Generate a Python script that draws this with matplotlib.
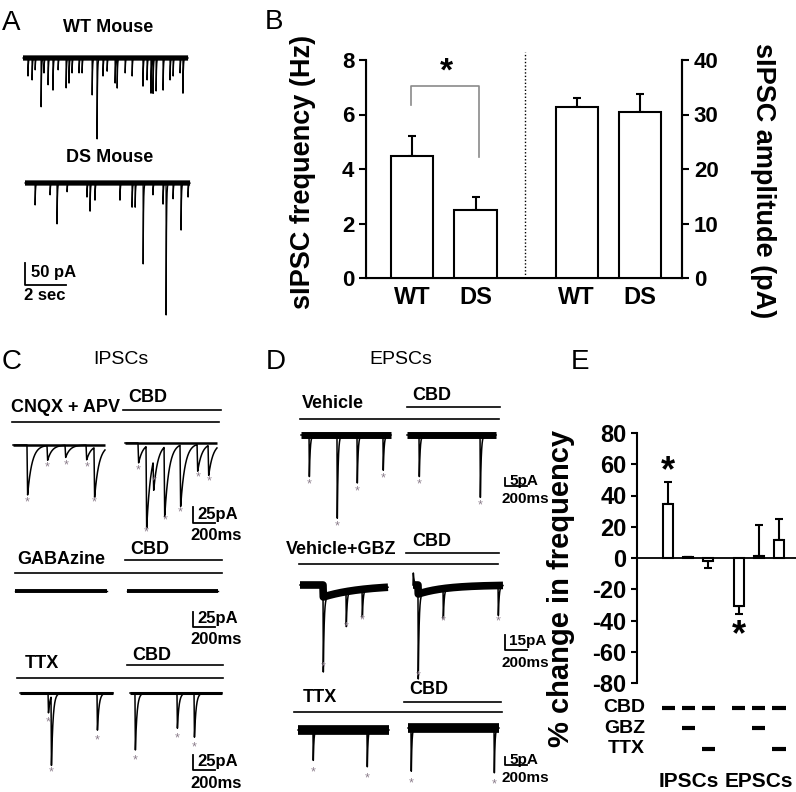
import numpy as np
import matplotlib.pyplot as plt

plt.rcParams['font.family'] = ['Liberation Sans', 'DejaVu Sans']
plt.rcParams['font.weight'] = 'bold'
plt.rcParams['axes.labelweight'] = 'bold'
plt.rcParams['axes.unicode_minus'] = False

# ---------------- data ----------------
# panel A: spontaneous events, (time s, amplitude pA)
a_wt = [(0.24, 41), (0.44, 50), (0.59, 27), (0.88, 111), (1.02, 34), (1.22, 61),
        (1.46, 73), (1.71, 27), (2.10, 68), (2.24, 57), (2.39, 34), (2.73, 34),
        (2.88, 34), (3.37, 84), (3.61, 184), (3.90, 41), (4.10, 30), (4.49, 57),
        (4.59, 68), (4.98, 34), (5.32, 41), (5.85, 64), (6.05, 50), (6.24, 80),
        (6.34, 80), (6.49, 75), (6.83, 73), (7.17, 50), (7.32, 41), (7.66, 34),
        (7.80, 80)]
a_ds = [(0.49, 50), (1.22, 27), (1.56, 93), (2.05, 20), (3.02, 32), (3.17, 64),
        (3.41, 39), (4.63, 39), (5.22, 55), (5.37, 55), (5.76, 184), (6.24, 27),
        (6.73, 48), (6.88, 300), (7.22, 36), (7.61, 107), (7.95, 32)]
a_dur = 8.05

# panel B
b_groups = ['WT', 'DS']
b_freq = [4.48, 2.50]
b_freq_err = [0.73, 0.47]
b_amp = [31.4, 30.5]
b_amp_err = [1.6, 3.3]

# panel C: IPSC events, (time ms, amplitude pA)
c_cnqx = [(127, 78), (309, 23), (473, 19), (664, 23), (736, 78)]
c_cnqx_cbd = [(118, 31), (191, 128), (255, 47), (355, 109), (500, 96), (655, 42), (755, 47)]
c_gbz = []
c_gbz_cbd = []
c_ttx = [(255, 31), (282, 108), (700, 58)]
c_ttx_cbd = [(45, 89), (427, 55), (582, 69)]

# panel D: EPSC events, (time ms, amplitude pA)
d_veh = [(73, 26), (327, 52), (509, 30), (745, 22)]
d_veh_cbd = [(109, 26), (664, 39)]
d_gbz = [(209, 75), (418, 35), (564, 28)]
d_gbz_slow = [(209, 12, 350)]
d_gbz_cbd = [(0, -12), (45, 85), (273, 30), (773, 30)]
d_gbz_cbd_slow = [(45, 9, 250)]
d_ttx = [(136, 19), (627, 23)]
d_ttx_cbd = [(27, 27), (782, 28)]

# panel E
e_change = [34.8, 0.5, -2.0, -30.8, 1.3, 11.6]
e_err = [13.6, 0.0, 4.5, 4.9, 20.0, 13.2]
e_sig = [1, 0, 0, 1, 0, 0]
e_cbd = [1, 1, 1, 1, 1, 1]
e_gbz = [0, 1, 0, 0, 1, 0]
e_ttx = [0, 0, 1, 0, 0, 1]
e_groups = ['IPSCs', 'EPSCs']

W, H = 796, 792
fig = plt.figure(figsize=(W / 100, H / 100), dpi=100)

ov = fig.add_axes([0, 0, 1, 1])
ov.set_xlim(0, W)
ov.set_ylim(H, 0)
ov.axis('off')

STAR = '#8b7d8b'


def make_trace(dur, events, dt, rise, tau):
    t = np.arange(0.0, dur + dt, float(dt))
    y = np.zeros(len(t), dtype=float)
    for ev in events:
        t0, amp = ev[0], ev[1]
        tk = ev[2] if len(ev) > 2 else tau
        s = t - t0
        k = np.where(s < 0, 0.0, np.where(s < rise, s / rise, np.exp(-(s - rise) / tk)))
        y -= amp * k
    return t, y


def draw_trace(x0, y0, sx, sy, dur, events, dt, rise, tau, band=2.0,
               lw=1.0, stars=True, star_off=8, slow=()):
    t, y = make_trace(dur, list(events) + list(slow), dt, rise, tau)
    _, yb = make_trace(dur, slow, dt, rise, tau)
    # noise band drawn as a thick baseline, following only slow drifts
    ov.plot(x0 + t * sx, y0 - yb * sy, color='k', lw=band, solid_capstyle='butt')
    ov.plot(x0 + t * sx, y0 - y * sy, color='k', lw=lw)
    if stars:
        for t0, amp in events:
            if amp > 0:
                ov.text(x0 + (t0 + rise) * sx, y0 + amp * sy + star_off, '*',
                        color=STAR, fontsize=9, ha='center', va='center',
                        fontweight='normal')


def scalebar(x, y, w, h, top, bottom, size=12):
    ov.plot([x, x, x + w], [y - h, y, y], color='k', lw=1.3)
    ov.text(x + 4, y - h / 2 - 1, top, fontsize=size, ha='left', va='center')
    ov.text(x - 3, y + 13, bottom, fontsize=size, ha='left', va='center')


def condition(label, lx, ly, cx, cy, line1, line2, size=13):
    ov.text(lx, ly, label, fontsize=size, ha='left', va='center')
    ov.text(cx, cy, 'CBD', fontsize=size, ha='left', va='center')
    ov.plot(line1[:2], [line1[2]] * 2, color='k', lw=1.2)
    ov.plot(line2[:2], [line2[2]] * 2, color='k', lw=1.2)


# ---------------- panel A ----------------
ov.text(2, 23, 'A', fontsize=20, fontweight='normal', ha='left', va='center')
ov.text(108, 27, 'WT Mouse', fontsize=13, ha='center', va='center')
ov.text(110, 157, 'DS Mouse', fontsize=13, ha='center', va='center')
draw_trace(23, 58, 20.5, 0.44, a_dur, a_wt, 0.002, 0.004, 0.02,
           band=3.8, lw=0.9, stars=False)
draw_trace(25, 183, 20.5, 0.44, a_dur, a_ds, 0.002, 0.004, 0.02,
           band=3.8, lw=0.9, stars=False)
ov.plot([25, 25, 66], [263, 285, 285], color='k', lw=1.3)
ov.text(31, 273, '50 pA', fontsize=12, ha='left', va='center')
ov.text(24, 296, '2 sec', fontsize=12, ha='left', va='center')

# ---------------- panel C ----------------
ov.text(2, 362, 'C', fontsize=20, fontweight='normal', ha='left', va='center')
ov.text(121, 359, 'IPSCs', fontsize=14, fontweight='normal', ha='center', va='center')
csx, csy = 0.11, 0.64
condition('CNQX + APV', 11, 408, 128, 397, (123, 221, 410), (12, 219, 422))
draw_trace(13, 445, csx, csy, 836, c_cnqx, 1, 6, 40, band=1.8, lw=1.1)
draw_trace(125, 443, csx, csy, 836, c_cnqx_cbd, 1, 6, 40, band=1.8, lw=1.1)
scalebar(193, 523, 22, 16, '25pA', '200ms')

condition('GABAzine', 17, 559, 130, 550, (125, 222, 560), (15, 222, 573))
draw_trace(15, 591, csx, csy, 836, c_gbz, 1, 6, 40, band=2.8, lw=1.0)
draw_trace(127, 591, csx, csy, 827, c_gbz_cbd, 1, 6, 40, band=2.8, lw=1.0)
scalebar(193, 627, 22, 15, '25pA', '200ms')

condition('TTX', 25, 663, 132, 655, (127, 223, 665), (17, 223, 678))
draw_trace(20, 693, csx, csy, 845, c_ttx, 1, 4, 15, band=2.2, lw=1.1, star_off=10)
draw_trace(130, 693, csx, csy, 836, c_ttx_cbd, 1, 4, 15, band=2.2, lw=1.1, star_off=10)
scalebar(193, 770, 22, 15, '25pA', '200ms')

# ---------------- panel D ----------------
ov.text(266, 362, 'D', fontsize=20, fontweight='normal', ha='left', va='center')
ov.text(401, 359, 'EPSCs', fontsize=14, fontweight='normal', ha='center', va='center')
dsx = 0.11
condition('Vehicle', 302, 403, 412, 395, (407, 500, 407), (300, 499, 419))
draw_trace(301, 435, dsx, 1.6, 818, d_veh, 1, 3, 8, band=5, lw=1.1, star_off=8)
draw_trace(407, 435, dsx, 1.6, 809, d_veh_cbd, 1, 3, 8, band=5, lw=1.1, star_off=8)
scalebar(505, 486, 22, 8, '5pA', '200ms', size=11)

condition('Vehicle+GBZ', 286, 550, 412, 542, (406, 499, 553), (299, 498, 564))
draw_trace(300, 585, dsx, 1.0, 800, d_gbz, 1, 3, 8, band=5.5, lw=1.1,
           star_off=7, slow=d_gbz_slow)
draw_trace(413, 585, dsx, 1.0, 818, d_gbz_cbd, 1, 3, 8, band=5.5, lw=1.1,
           star_off=6, slow=d_gbz_cbd_slow)
scalebar(505, 650, 22, 15, '15pA', '200ms', size=11)

condition('TTX', 303, 698, 409, 690, (404, 501, 702), (294, 502, 712))
draw_trace(298, 730, dsx, 1.6, 827, d_ttx, 1, 3, 6, band=7, lw=1.1, star_off=12)
draw_trace(408, 728, dsx, 1.6, 827, d_ttx_cbd, 1, 3, 6, band=7, lw=1.1, star_off=12)
scalebar(505, 765, 22, 8, '5pA', '200ms', size=11)

# ---------------- panel B ----------------
ov.text(265, 22, 'B', fontsize=20, fontweight='normal', ha='left', va='center')
axb = fig.add_axes([366 / W, 1 - 278 / H, 316 / W, 218 / H])
axb.patch.set_alpha(0)
left_pos = np.array([1.1, 2.6])
right_pos = np.array([5.0, 6.5])
axb.bar(left_pos, b_freq, width=1.0, color='white', edgecolor='k', lw=1.5, zorder=3)
axb.errorbar(left_pos, b_freq, yerr=[np.zeros(2), b_freq_err], fmt='none',
             ecolor='k', elinewidth=1.5, capsize=3, capthick=1.5, zorder=2)
axb.set_xlim(0, 7.5)
axb.set_ylim(0, 8)
axb.set_yticks([0, 2, 4, 6, 8])
axb.set_xticks(np.concatenate([left_pos, right_pos]))
axb.set_xticklabels(b_groups + b_groups, fontsize=17)
axb.tick_params(axis='x', length=0, pad=6)
axb.tick_params(axis='y', labelsize=16, width=1.5, length=5, direction='out')
axb.set_ylabel('sIPSC frequency (Hz)', fontsize=19.5)
axb.yaxis.set_label_coords(-0.158, 0.486)
for s in ['left', 'bottom', 'right']:
    axb.spines[s].set_linewidth(1.5)
axb.spines['top'].set_visible(False)
axb.plot([3.78, 3.78], [0, 8.3], color='k', lw=1, ls=(0, (1, 1.5)), clip_on=False)
axb.plot([left_pos[0] - 0.03, left_pos[0] - 0.03, left_pos[1] + 0.08, left_pos[1] + 0.08],
         [6.35, 7.05, 7.05, 4.44], color='#8a8a8a', lw=1.2, clip_on=False)
axb.text(1.9, 7.55, '*', fontsize=24, ha='center', va='center')

axb2 = axb.twinx()
axb2.bar(right_pos, b_amp, width=1.0, color='white', edgecolor='k', lw=1.5, zorder=3)
axb2.errorbar(right_pos, b_amp, yerr=[np.zeros(2), b_amp_err], fmt='none',
              ecolor='k', elinewidth=1.5, capsize=3, capthick=1.5, zorder=2)
axb2.set_ylim(0, 40)
axb2.set_yticks([0, 10, 20, 30, 40])
axb2.tick_params(axis='y', labelsize=16, width=1.5, length=5, direction='out')
axb2.set_ylabel('sIPSC amplitude (pA)', fontsize=19.5, rotation=270, va='center')
axb2.yaxis.set_label_coords(1.255, 0.445)
axb2.spines['top'].set_visible(False)
axb2.spines['right'].set_linewidth(1.5)

# ---------------- panel E ----------------
ov.text(571, 362, 'E', fontsize=20, fontweight='normal', ha='left', va='center')
axe = fig.add_axes([637 / W, 1 - 683 / H, (W - 637) / W, 250 / H])
axe.patch.set_alpha(0)
e_pos = np.array([0, 1, 2, 3.5, 4.5, 5.5])
e_vals = np.array(e_change)
axe.bar(e_pos, e_vals, width=0.5, color='white', edgecolor='k', lw=1.5, zorder=3)
up = np.where(e_vals >= 0, e_err, 0)
dn = np.where(e_vals < 0, e_err, 0)
axe.errorbar(e_pos, e_vals, yerr=[dn, up], fmt='none', ecolor='k',
             elinewidth=1.5, capsize=3, capthick=1.5, zorder=2)
axe.axhline(0, color='k', lw=1.3, zorder=4)
axe.set_xlim(-1.55, 6.35)
axe.set_ylim(-80, 80)
axe.set_yticks(np.arange(-80, 81, 20))
axe.set_xticks([])
axe.tick_params(axis='y', labelsize=17, width=1.5, length=4, direction='out')
axe.set_ylabel('% change in frequency', fontsize=21)
axe.yaxis.set_label_coords(-0.39, 0.38)
for s in ['top', 'right', 'bottom']:
    axe.spines[s].set_visible(False)
axe.spines['left'].set_linewidth(1.5)
for p, v, e, sg in zip(e_pos, e_vals, e_err, e_sig):
    if sg:
        yy = v + e + 7 if v > 0 else v - e - 14
        axe.text(p, yy, '*', fontsize=26, ha='center', va='center')

rows = [('CBD', e_cbd, -96), ('GBZ', e_gbz, -109), ('TTX', e_ttx, -122)]
for name, flags, yy in rows:
    axe.text(-1.15, yy, name, fontsize=14, ha='right', va='center', clip_on=False)
    for p, f in zip(e_pos, flags):
        if f:
            axe.plot([p - 0.33, p + 0.33], [yy, yy], color='k', lw=3,
                     solid_capstyle='butt', clip_on=False)
axe.text(1, -143, e_groups[0], fontsize=15, ha='center', va='center')
axe.text(4.5, -143, e_groups[1], fontsize=15, ha='center', va='center')

fig.savefig('out.png', dpi=100)
